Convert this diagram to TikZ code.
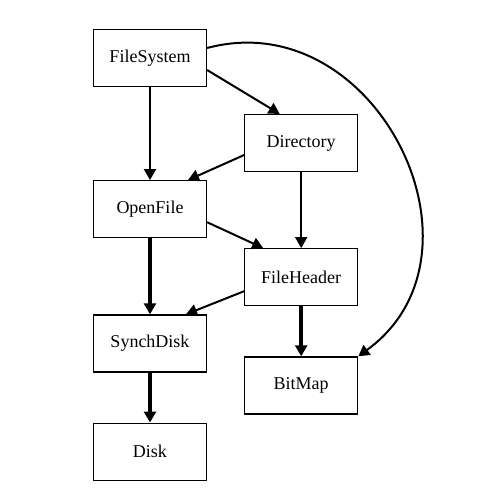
\documentclass[tikz,border=0pt]{standalone}
\usepackage{fontspec}
\setmainfont{Liberation Serif}
\usepackage{tikz}
\usetikzlibrary{positioning, arrows.meta}

\begin{document}
\begin{tikzpicture}[>={Triangle[length=5.5pt,width=6pt]},
		box/.style={draw, line width=0.6pt, minimum width=56.5pt, minimum height=28.5pt, font=\fontsize{9}{11}\selectfont},
		uses/.style={->, line width=1pt},
		thickuses/.style={->, line width=2pt}]
		\useasboundingbox (-75pt,29pt) rectangle (172pt,-221pt);
		
		% Nodes
		\node[box] (filesystem) {FileSystem};
		\node[box, below=46.5pt of filesystem] (openfile) {OpenFile};
		\node[box, below=38pt of openfile] (synchdisk) {SynchDisk};
		\node[box, below=25pt of synchdisk] (disk) {Disk};
		\node[box, right=18.5pt of filesystem, yshift=-42.5pt] (directory) {Directory};
		\node[box, below=38pt of directory] (fileheader) {FileHeader};
		\node[box, below=25pt of fileheader] (bitmap) {BitMap};
		
		% FileSystem arrows
		\draw[uses] (filesystem.south) -- (openfile.north);
		\draw[uses] ([yshift=-6pt]filesystem.east) -- ([xshift=-10.75pt]directory.north);
		\draw[uses] ([yshift=5pt]filesystem.east) to [out=15, in=36, looseness=1.3] (bitmap.north east);
		
		% Directory arrows
		\draw[uses] ([yshift=-6pt]directory.west) -- ([xshift=19pt]openfile.north);
		\draw[uses] (directory.south) -- (fileheader.north);
		
		% OpenFile and FileHeader arrows
		\draw[uses] ([yshift=-6.5pt]openfile.east) -- ([xshift=-19pt]fileheader.north);
		\draw[uses] ([yshift=-7pt]fileheader.west) -- ([xshift=18pt]synchdisk.north);
		\draw[thickuses] (openfile.south) -- (synchdisk.north);
		\draw[thickuses] (fileheader.south) -- (bitmap.north);
		
		% Disk arrow
		\draw[thickuses] (synchdisk.south) -- (disk.north);
	\end{tikzpicture}
\end{document}
